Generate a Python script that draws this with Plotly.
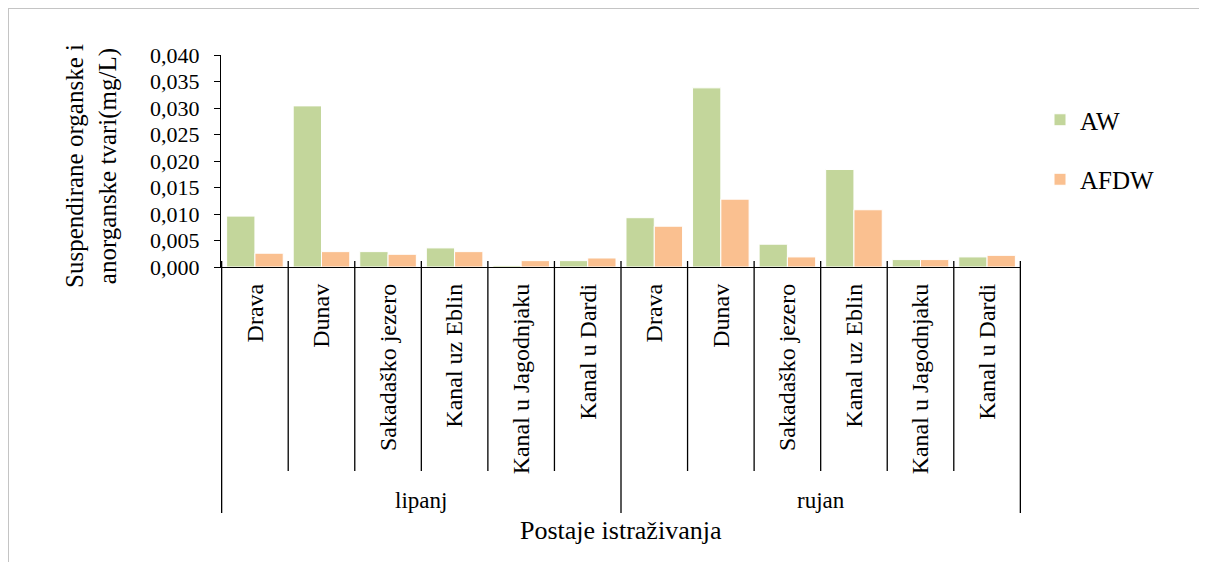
import plotly.graph_objects as go

# ---- data ----
months = ["lipanj"] * 6 + ["rujan"] * 6
stations = ["Drava", "Dunav", "Sakadaško jezero", "Kanal uz Eblin",
            "Kanal u Jagodnjaku", "Kanal u Dardi"] * 2
aw = [0.0096, 0.0304, 0.0029, 0.0036, 0.0003, 0.0012,
      0.0093, 0.0338, 0.0043, 0.0184, 0.0014, 0.0019]
afdw = [0.0026, 0.0029, 0.0024, 0.0029, 0.0012, 0.0017,
        0.0077, 0.0128, 0.0019, 0.0108, 0.0014, 0.0022]
y_ticks = [0.000, 0.005, 0.010, 0.015, 0.020, 0.025, 0.030, 0.035, 0.040]
month_names = ["lipanj", "rujan"]

FONT = "Liberation Serif, Times New Roman, serif"
keys = [f"{m}|{s}|{i}" for i, (m, s) in enumerate(zip(months, stations))]

fig = go.Figure()
fig.add_trace(go.Bar(x=keys, y=aw, name="AW", legendgroup="a",
                     marker=dict(color="#c3d69b", line=dict(color="white", width=1))))
fig.add_trace(go.Bar(x=keys, y=afdw, name="AFDW", legendgroup="b",
                     marker=dict(color="#fac090", line=dict(color="white", width=1))))

# page offset (body margin) = 8px; plot area on page: x 221..1021, y 55..267
OFF = 8
def px_x(px):
    return (px - 221) / 800.0

def px_y(py):
    return (267 - py) / 212.0

shapes = []
n = len(keys)
for i in range(n + 1):
    long = (i % 6 == 0)
    shapes.append(dict(type="line", xref="x", yref="paper",
                       x0=i - 0.5, x1=i - 0.5,
                       y0=px_y(261), y1=px_y(513 if long else 471),
                       line=dict(color="#000000", width=1.3)))
# outer frame
shapes.append(dict(type="rect", xref="paper", yref="paper",
                   x0=px_x(8), x1=px_x(1225), y0=px_y(8), y1=px_y(580),
                   line=dict(color="#c4c4c4", width=2), fillcolor="rgba(0,0,0,0)"))

annotations = []
for m in month_names:
    idx = [i for i, mm in enumerate(months) if mm == m]
    center = sum(idx) / len(idx)
    annotations.append(dict(x=center, y=px_y(500), xref="x", yref="paper",
                            text=m, showarrow=False, xanchor="center", yanchor="middle",
                            font=dict(family=FONT, size=23, color="#000000")))
annotations.append(dict(x=0.5, y=px_y(530), xref="paper", yref="paper",
                        text="Postaje istraživanja", showarrow=False,
                        xanchor="center", yanchor="middle",
                        font=dict(family=FONT, size=26, color="#000000")))
annotations.append(dict(x=px_x(91), y=px_y(166), xref="paper", yref="paper",
                        text="Suspendirane organske i<br>anorganske tvari(mg/L)",
                        textangle=-90, showarrow=False,
                        xanchor="center", yanchor="middle",
                        font=dict(family=FONT, size=25, color="#000000")))

fig.update_layout(
    width=1207 - OFF, height=562 - OFF,
    margin=dict(l=221 - OFF, r=186, t=55 - OFF, b=295),
    paper_bgcolor="white", plot_bgcolor="white",
    separators=",.",
    barmode="group", bargap=0.15, bargroupgap=0,
    font=dict(family=FONT, size=22, color="#000000"),
    showlegend=True,
    legend=dict(x=px_x(1040), y=px_y(97), xanchor="left", yanchor="top",
                traceorder="grouped", tracegroupgap=24,
                font=dict(family=FONT, size=25, color="#000000"),
                bgcolor="rgba(0,0,0,0)", itemwidth=30),
    shapes=shapes, annotations=annotations,
)
fig.update_xaxes(type="category", tickmode="array", tickvals=keys, ticktext=stations,
                 tickangle=-90, ticks="", showline=True, linecolor="#000000", linewidth=1.3,
                 tickfont=dict(family=FONT, size=24, color="#000000"),
                 ticklabelstandoff=6, showgrid=False, zeroline=False)
fig.update_yaxes(range=[0, 0.040], tickmode="array", tickvals=y_ticks,
                 tickformat=".3f", ticks="outside", ticklen=6, tickcolor="#000000",
                 tickwidth=1.3, showline=True, linecolor="#000000", linewidth=1.3,
                 tickfont=dict(family=FONT, size=22, color="#000000"),
                 ticklabelstandoff=10, showgrid=False, zeroline=False)

fig.write_html("out.html")
